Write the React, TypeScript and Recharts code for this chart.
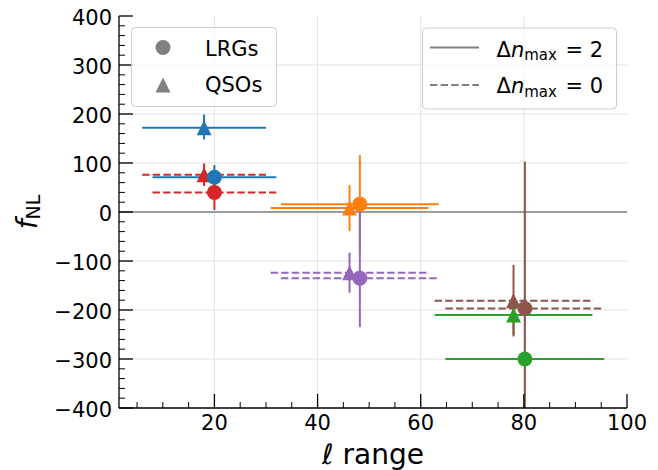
import React from "react";
import { ScatterChart, Scatter, XAxis, YAxis, ErrorBar, ReferenceLine } from "recharts";

// ell ranges (bin centre and half-width) per tracer
const ellMidLRG = [20, 48.2, 80.2];
const ellHalfLRG = [12, 15.3, 15.4];
const ellMidQSO = [18, 46.2, 78];
const ellHalfQSO = [12, 15.3, 15.3];

// fNL values and [lower, upper] errors
const fnlLRGdn2 = [71, 16, -300];
const errLRGdn2 = [[25, 25], [100, 100], [8, 8]];
const fnlLRGdn0 = [40, -135, -197];
const errLRGdn0 = [[36, 36], [100, 150], [300, 300]];
const fnlQSOdn2 = [172, 8, -210];
const errQSOdn2 = [[24, 27], [47, 47], [40, 40]];
const fnlQSOdn0 = [76, -124, -181];
const errQSOdn0 = [[23, 23], [41, 41], [73, 73]];

const colorsDn2 = ["#1f77b4", "#ff7f0e", "#2ca02c"];
const colorsDn0 = ["#d62728", "#9467bd", "#8c564b"];

const majorX = [20, 40, 60, 80, 100];
const majorY = [-400, -300, -200, -100, 0, 100, 200, 300, 400];
const xTicks = Array.from({ length: 20 }, (_, i) => 5 * (i + 1));
const yTicks = Array.from({ length: 41 }, (_, i) => -400 + 20 * i);

const FONT = "DejaVu Sans";
const DASH = "7.4 3.2";

const W = 658;
const H = 470;
const M = { top: 16, right: 31, bottom: 0, left: 0 };
const Y_AXIS_W = 119;
const X_AXIS_H = 62;

type Group = {
  key: string;
  marker: "circle" | "triangle";
  color: string;
  dash?: string;
  point: { x: number; y: number; ex: number; ey: number[] };
};

const build = (
  tag: string,
  marker: "circle" | "triangle",
  mids: number[],
  halfs: number[],
  fnl: number[],
  err: number[][],
  colors: string[],
  dash?: string
): Group[] =>
  mids.map((m, i) => ({
    key: `${tag}-${i}`,
    marker,
    color: colors[i],
    dash,
    point: { x: m, y: fnl[i], ex: halfs[i], ey: err[i] },
  }));

// QSOs first, LRGs on top
const groups: Group[] = [
  ...build("q2", "triangle", ellMidQSO, ellHalfQSO, fnlQSOdn2, errQSOdn2, colorsDn2),
  ...build("q0", "triangle", ellMidQSO, ellHalfQSO, fnlQSOdn0, errQSOdn0, colorsDn0, DASH),
  ...build("l2", "circle", ellMidLRG, ellHalfLRG, fnlLRGdn2, errLRGdn2, colorsDn2),
  ...build("l0", "circle", ellMidLRG, ellHalfLRG, fnlLRGdn0, errLRGdn0, colorsDn0, DASH),
];

const fmt = (v: number) => (v < 0 ? `\u2212${-v}` : `${v}`);

const BottomTick = (p: any) => {
  const v = p.payload.value;
  const major = majorX.includes(v);
  return (
    <g>
      <line x1={p.x} x2={p.x} y1={p.y} y2={p.y - (major ? 14 : 6)} stroke="#000" strokeWidth={major ? 1.3 : 1} />
      {major && (
        <text x={p.x} y={p.y + 22} textAnchor="middle" fontSize={21} fontFamily={FONT} fill="#000">
          {v}
        </text>
      )}
    </g>
  );
};

const TopTick = (p: any) => {
  const major = majorX.includes(p.payload.value);
  return <line x1={p.x} x2={p.x} y1={p.y} y2={p.y + (major ? 14 : 6)} stroke="#000" strokeWidth={major ? 1.3 : 1} />;
};

const LeftTick = (p: any) => {
  const v = p.payload.value;
  const major = majorY.includes(v);
  return (
    <g>
      <line x1={p.x} x2={p.x + (major ? 14 : 6)} y1={p.y} y2={p.y} stroke="#000" strokeWidth={major ? 1.3 : 1} />
      {major && (
        <text x={p.x - 7} y={p.y + 8.5} textAnchor="end" fontSize={21} fontFamily={FONT} fill="#000">
          {fmt(v)}
        </text>
      )}
    </g>
  );
};

const RightTick = (p: any) => {
  const major = majorY.includes(p.payload.value);
  return <line x1={p.x} x2={p.x - (major ? 14 : 6)} y1={p.y} y2={p.y} stroke="#000" strokeWidth={major ? 1.3 : 1} />;
};

const markerShape = (g: Group) => (props: any) => {
  const { cx, cy } = props;
  const s = 7.5;
  if (g.marker === "circle") return <circle cx={cx} cy={cy} r={s} fill={g.color} />;
  return <polygon points={`${cx},${cy - s} ${cx - s},${cy + s} ${cx + s},${cy + s}`} fill={g.color} />;
};

const axisLine = { stroke: "#000", strokeWidth: 1.3 };

const App = () => {
  const plotX = M.left + Y_AXIS_W;
  const plotY = M.top;
  const plotW = W - M.left - M.right - Y_AXIS_W;
  const plotH = H - M.top - M.bottom - X_AXIS_H;

  return (
    <div style={{ position: "absolute", left: 0, top: 0, width: W, height: H, background: "#fff" }}>
      <svg width={0} height={0} style={{ position: "absolute" }}>
        <defs>
          <clipPath id="fnlPlotArea" clipPathUnits="userSpaceOnUse">
            <rect x={plotX} y={plotY} width={plotW} height={plotH} />
          </clipPath>
        </defs>
      </svg>
      <ScatterChart width={W} height={H} margin={M}>
        <XAxis
          xAxisId="b"
          type="number"
          dataKey="x"
          domain={[1.5, 100]}
          allowDataOverflow
          ticks={xTicks}
          interval={0}
          tickSize={0}
          tickMargin={0}
          tickLine={false}
          axisLine={axisLine}
          height={X_AXIS_H}
          tick={(p: any) => <BottomTick {...p} />}
        />
        <XAxis
          xAxisId="t"
          orientation="top"
          type="number"
          domain={[1.5, 100]}
          allowDataOverflow
          ticks={xTicks}
          interval={0}
          tickSize={0}
          tickMargin={0}
          tickLine={false}
          axisLine={axisLine}
          height={0}
          tick={(p: any) => <TopTick {...p} />}
        />
        <YAxis
          yAxisId="l"
          type="number"
          dataKey="y"
          domain={[-400, 400]}
          allowDataOverflow
          ticks={yTicks}
          interval={0}
          tickSize={0}
          tickMargin={0}
          tickLine={false}
          axisLine={axisLine}
          width={Y_AXIS_W}
          tick={(p: any) => <LeftTick {...p} />}
        />
        <YAxis
          yAxisId="r"
          orientation="right"
          type="number"
          domain={[-400, 400]}
          allowDataOverflow
          ticks={yTicks}
          interval={0}
          tickSize={0}
          tickMargin={0}
          tickLine={false}
          axisLine={axisLine}
          width={0}
          tick={(p: any) => <RightTick {...p} />}
        />

        {majorX.slice(0, 4).map((v) => (
          <ReferenceLine key={`gx${v}`} x={v} xAxisId="b" yAxisId="l" stroke="#e3e3e3" strokeWidth={1} />
        ))}
        {majorY.slice(1, 8).map((v) => (
          <ReferenceLine key={`gy${v}`} y={v} xAxisId="b" yAxisId="l" stroke="#e3e3e3" strokeWidth={1} />
        ))}
        <ReferenceLine y={0} xAxisId="b" yAxisId="l" stroke="#808080" strokeWidth={1.6} />

        {/* error bars beneath all markers */}
        {groups.map((g) => (
          <Scatter
            key={`e-${g.key}`}
            xAxisId="b"
            yAxisId="l"
            data={[g.point]}
            isAnimationActive={false}
            shape={() => <g />}
          >
            <ErrorBar
              dataKey="ex"
              direction="x"
              width={0}
              stroke={g.color}
              strokeWidth={2}
              strokeDasharray={g.dash}
              clipPath="url(#fnlPlotArea)"
              isAnimationActive={false}
            />
            <ErrorBar
              dataKey="ey"
              direction="y"
              width={0}
              stroke={g.color}
              strokeWidth={2}
              clipPath="url(#fnlPlotArea)"
              isAnimationActive={false}
            />
          </Scatter>
        ))}

        {groups.map((g) => (
          <Scatter
            key={`m-${g.key}`}
            xAxisId="b"
            yAxisId="l"
            data={[g.point]}
            isAnimationActive={false}
            shape={markerShape(g)}
          />
        ))}
      </ScatterChart>

      <svg
        width={W}
        height={H}
        style={{ position: "absolute", left: 0, top: 0, pointerEvents: "none" }}
        fontFamily={FONT}
      >
        {/* tracer legend */}
        <rect x={131.5} y={27.5} width={145} height={79} rx={4} fill="#fff" fillOpacity={0.8} stroke="#cccccc" />
        <circle cx={163} cy={47.5} r={7.5} fill="#808080" />
        <polygon points="163,77.5 155.5,92.5 170.5,92.5" fill="#808080" />
        <text x={205} y={55.5} fontSize={21} fill="#000">LRGs</text>
        <text x={205} y={91.5} fontSize={21} fill="#000">QSOs</text>

        {/* Δn_max legend */}
        <rect x={422.5} y={28} width={194} height={81} rx={4} fill="#fff" fillOpacity={0.8} stroke="#cccccc" />
        <line x1={430} x2={479} y1={47.5} y2={47.5} stroke="#808080" strokeWidth={2} />
        <line x1={430} x2={479} y1={85} y2={85} stroke="#808080" strokeWidth={2} strokeDasharray={DASH} />
        <text x={496.5} y={56.5} fontSize={21} fill="#000">
          Δ<tspan fontStyle="italic">n</tspan>
          <tspan fontSize={15} dy={3.5}>max</tspan>
          <tspan dy={-3.5} dx={2}> = 2</tspan>
        </text>
        <text x={496.5} y={93} fontSize={21} fill="#000">
          Δ<tspan fontStyle="italic">n</tspan>
          <tspan fontSize={15} dy={3.5}>max</tspan>
          <tspan dy={-3.5} dx={2}> = 0</tspan>
        </text>

        {/* axis labels */}
        <text x={373} y={464} fontSize={28} textAnchor="middle" fill="#000">
          <tspan fontStyle="italic">ℓ</tspan> range
        </text>
        <text x={36.5} y={212} fontSize={28} textAnchor="middle" fill="#000" transform="rotate(-90 36.5 212)">
          <tspan fontStyle="italic">f</tspan>
          <tspan fontSize={19} dy={3.5}>NL</tspan>
        </text>
      </svg>
    </div>
  );
};

export default App;
